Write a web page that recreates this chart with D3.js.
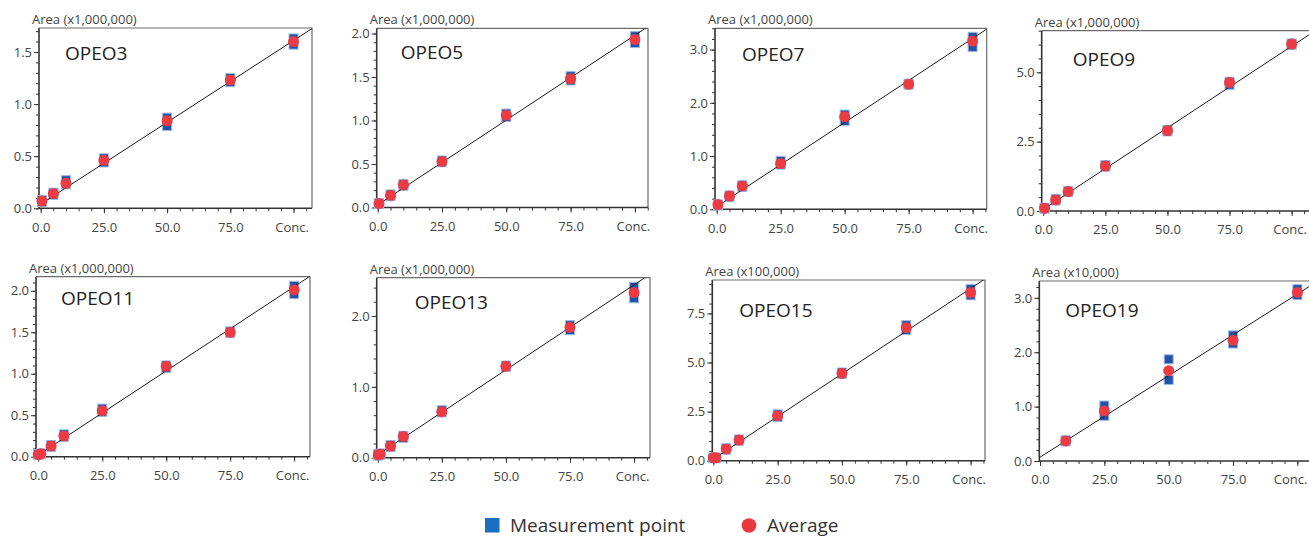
<!DOCTYPE html>
<html>
<head>
<meta charset="utf-8">
<script src="https://cdn.jsdelivr.net/npm/d3@7"></script>
<style>
  body { margin: 0; background: #fff; }
  text { font-family: "Open Sans", "Noto Sans", sans-serif; }
</style>
</head>
<body>
<div id="chart"></div>
<script>
// compounds and their data, one entry per panel
var compounds = ["OPEO3", "OPEO5", "OPEO7", "OPEO9", "OPEO11", "OPEO13", "OPEO15", "OPEO19"];
var areaUnits = ["(x1,000,000)", "(x1,000,000)", "(x1,000,000)", "(x1,000,000)",
                 "(x1,000,000)", "(x1,000,000)", "(x100,000)", "(x10,000)"];
var yTickSteps = [0.5, 0.5, 1, 2.5, 0.5, 1, 2.5, 1];
var xTicks = [0, 25, 50, 75, 100];

var concentrations = [
  [0.5, 5, 10, 25, 50, 75, 100],
  [0.5, 5, 10, 25, 50, 75, 100],
  [0.5, 5, 10, 25, 50, 75, 100],
  [0.5, 5, 10, 25, 50, 75, 100],
  [0, 1, 5, 10, 25, 50, 75, 100],
  [0.2, 1, 5, 10, 25, 50, 75, 100],
  [0, 1, 5, 10, 25, 50, 75, 100],
  [10, 25, 50, 75, 100]
];

// two measurement points per concentration
var measurements = [
  [[0.06, 0.08], [0.13, 0.15], [0.23, 0.27], [0.44, 0.48], [0.79, 0.87], [1.21, 1.25], [1.57, 1.63]],
  [[0.04, 0.05], [0.13, 0.15], [0.25, 0.27], [0.52, 0.54], [1.04, 1.08], [1.46, 1.51], [1.89, 1.97]],
  [[0.07, 0.09], [0.23, 0.26], [0.42, 0.45], [0.84, 0.91], [1.66, 1.78], [2.34, 2.36], [3.05, 3.24]],
  [[0.08, 0.12], [0.38, 0.44], [0.68, 0.72], [1.60, 1.66], [2.87, 2.92], [4.55, 4.66], [5.99, 6.04]],
  [[0.02, 0.03], [0.03, 0.04], [0.12, 0.14], [0.24, 0.27], [0.54, 0.58], [1.07, 1.10], [1.49, 1.51], [1.96, 2.06]],
  [[0.03, 0.05], [0.04, 0.06], [0.15, 0.18], [0.28, 0.31], [0.64, 0.67], [1.28, 1.30], [1.80, 1.87], [2.25, 2.41]],
  [[0.13, 0.16], [0.13, 0.16], [0.56, 0.63], [1.02, 1.08], [2.22, 2.36], [4.42, 4.49], [6.66, 6.90], [8.42, 8.74]],
  [[0.36, 0.38], [0.83, 1.02], [1.49, 1.87], [2.16, 2.31], [3.05, 3.16]]
];

var averages = [
  [0.07, 0.14, 0.24, 0.46, 0.84, 1.23, 1.60],
  [0.045, 0.14, 0.26, 0.53, 1.06, 1.48, 1.93],
  [0.09, 0.25, 0.44, 0.86, 1.74, 2.35, 3.16],
  [0.10, 0.40, 0.70, 1.62, 2.90, 4.63, 6.02],
  [0.025, 0.035, 0.13, 0.25, 0.555, 1.09, 1.50, 2.01],
  [0.04, 0.05, 0.165, 0.30, 0.65, 1.29, 1.84, 2.33],
  [0.15, 0.15, 0.60, 1.05, 2.29, 4.45, 6.77, 8.56],
  [0.37, 0.92, 1.66, 2.22, 3.10]
];

// calibration line: area = intercept + slope * conc
var fitIntercepts = [0.04, 0.03, 0.05, 0.06, 0.02, 0.04, 0.08, 0.07];
var fitSlopes = [0.0157, 0.0195, 0.0316, 0.0588, 0.0203, 0.024, 0.0869, 0.0300];

// panel frames (layout only)
var frames = [
  {l: 39,     t: 28,    r: 312,  b: 208.3, xMin: -0.67, xMax: 107.3, yMax: 1.73, tdx: 26, tdy: 32},
  {l: 376.7,  t: 28.3,  r: 648,  b: 207.5, xMin: -0.39, xMax: 105.1, yMax: 2.06, tdx: 24, tdy: 31},
  {l: 715,    t: 28.3,  r: 986.7,b: 209.3, xMin: -0.66, xMax: 105.5, yMax: 3.40, tdx: 27, tdy: 33},
  {l: 1041.7, t: 30.7,  r: 1310, b: 211,   xMin: -0.64, xMax: 107.4, yMax: 6.5,  tdx: 31, tdy: 35},
  {l: 36,     t: 276.7, r: 310,  b: 456.7, xMin: -0.9,  xMax: 106.2, yMax: 2.17, tdx: 25, tdy: 28},
  {l: 376.7,  t: 277.7, r: 650,  b: 457.7, xMin: -0.39, xMax: 106.2, yMax: 2.54, tdx: 38, tdy: 31},
  {l: 712.3,  t: 280,   r: 985,  b: 460.7, xMin: -0.39, xMax: 105.6, yMax: 9.2,  tdx: 27, tdy: 37},
  {l: 1039.3, t: 281,   r: 1310, b: 461,   xMin: -0.27, xMax: 104.9, yMax: 3.31, tdx: 26, tdy: 36}
];

var width = 1309, height = 538;
var svg = d3.select("#chart").append("svg")
            .attr("width", width)
            .attr("height", height);

var fmt = d3.format(".1f");

compounds.forEach(function (name, i) {
  var f = frames[i];
  var x = d3.scaleLinear().domain([f.xMin, f.xMax]).range([f.l, f.r]);
  var y = d3.scaleLinear().domain([0, f.yMax]).range([f.b, f.t]);
  var g = svg.append("g");

  // frame top / right
  g.append("path")
   .attr("d", "M" + f.l + "," + f.t + "H" + f.r + "V" + f.b)
   .attr("fill", "none").attr("stroke", "#6b6b6b").attr("stroke-width", 1.2);

  // y axis
  var step = yTickSteps[i];
  var majorY = d3.range(0, f.yMax + 1e-9, step);
  var minorY = d3.range(0, f.yMax + 1e-9, step / 5);
  var yMinorAxis = d3.axisLeft(y).tickValues(minorY).tickFormat("").tickSize(3).tickSizeOuter(0);
  var yAxis = d3.axisLeft(y).tickValues(majorY).tickFormat(fmt).tickSize(5).tickPadding(2).tickSizeOuter(0);
  var gy1 = g.append("g").attr("transform", "translate(" + f.l + ",0)").call(yMinorAxis);
  var gy2 = g.append("g").attr("transform", "translate(" + f.l + ",0)").call(yAxis);

  // x axis
  var minorX = d3.range(0, f.xMax, 5);
  var xMinorAxis = d3.axisBottom(x).tickValues(minorX).tickFormat("").tickSize(3).tickSizeOuter(0);
  var xAxis = d3.axisBottom(x).tickValues(xTicks)
                .tickFormat(function (d) { return d === 100 ? "Conc." : fmt(d); })
                .tickSize(5).tickPadding(9).tickSizeOuter(0);
  var gx1 = g.append("g").attr("transform", "translate(0," + f.b + ")").call(xMinorAxis);
  var gx2 = g.append("g").attr("transform", "translate(0," + f.b + ")").call(xAxis);

  [gy1, gy2, gx1, gx2].forEach(function (a) {
    a.select(".domain").remove();
    a.selectAll(".tick line").attr("stroke", "#333");
    a.selectAll(".tick text").attr("fill", "#444").style("font-size", "13px")
     .style("font-family", "'Open Sans', 'Noto Sans', sans-serif");
  });

  // keep "Conc." inside the page at the right edge
  gx2.selectAll(".tick text")
     .filter(function (d) { return d === 100; })
     .attr("dx", function () { return Math.min(-2, 1290 - x(100)); });

  // left and bottom axis lines
  g.append("path")
   .attr("d", "M" + f.l + "," + f.t + "V" + f.b + "H" + f.r)
   .attr("fill", "none").attr("stroke", "#333").attr("stroke-width", 1.6);

  // area label
  g.append("text")
   .attr("x", f.l - 7).attr("y", f.t - 4)
   .attr("fill", "#444").style("font-size", "13px")
   .text("Area " + areaUnits[i]);

  // title
  g.append("text")
   .attr("x", f.l + f.tdx).attr("y", f.t + f.tdy)
   .attr("fill", "#222").style("font-size", "19px")
   .text(name);

  // measurement squares
  var pts = [];
  concentrations[i].forEach(function (c, j) {
    measurements[i][j].forEach(function (v) { pts.push({c: c, v: v}); });
  });
  g.selectAll("rect.meas").data(pts).enter().append("rect")
   .attr("class", "meas")
   .attr("x", function (d) { return x(d.c) - 4.5; })
   .attr("y", function (d) { return y(d.v) - 4.5; })
   .attr("width", 9).attr("height", 9)
   .style("fill", "#2353a6")
   .style("stroke", "#9bb8e6").style("stroke-width", 1);

  // fit line, clipped to frame
  var clipId = "clip" + i;
  svg.append("clipPath").attr("id", clipId).append("rect")
     .attr("x", f.l).attr("y", f.t).attr("width", f.r - f.l).attr("height", f.b - f.t);
  var line = d3.line()
               .x(function (d) { return x(d); })
               .y(function (d) { return y(fitIntercepts[i] + fitSlopes[i] * d); });
  g.append("path")
   .datum([f.xMin, f.xMax])
   .attr("d", line)
   .attr("clip-path", "url(#" + clipId + ")")
   .attr("fill", "none").attr("stroke", "#1a1a1a").attr("stroke-width", 1);

  // averages
  g.selectAll("circle.avg").data(averages[i]).enter().append("circle")
   .attr("class", "avg")
   .attr("cx", function (d, j) { return x(concentrations[i][j]); })
   .attr("cy", function (d) { return y(d); })
   .attr("r", 5.5)
   .style("fill", "#ec3b43");
});

// legend
var legend = svg.append("g");
legend.append("rect").attr("x", 485).attr("y", 518).attr("width", 14.5).attr("height", 14.5)
      .style("fill", "#1b6fc0");
legend.append("text").attr("x", 510).attr("y", 532).attr("fill", "#333")
      .style("font-size", "19px").text("Measurement point");
legend.append("circle").attr("cx", 749).attr("cy", 525.5).attr("r", 7.3)
      .style("fill", "#e8383d");
legend.append("text").attr("x", 767).attr("y", 532).attr("fill", "#333")
      .style("font-size", "19px").text("Average");
</script>
</body>
</html>
